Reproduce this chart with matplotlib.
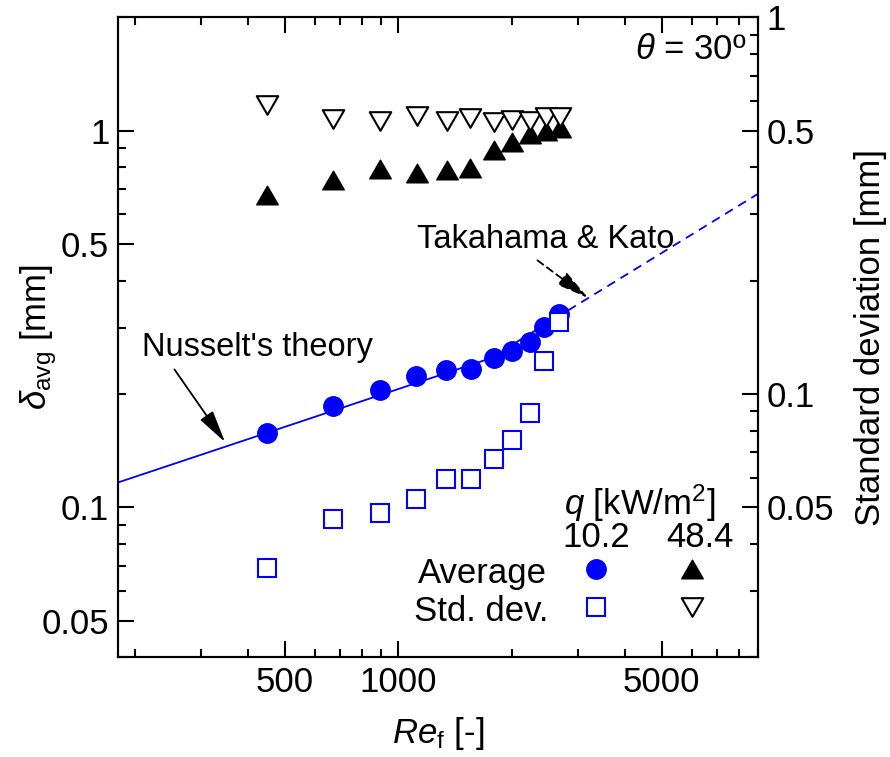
import matplotlib
matplotlib.use("Agg")
import matplotlib.pyplot as plt
from matplotlib.path import Path
from matplotlib.ticker import NullFormatter

plt.rcParams['font.family'] = ['Liberation Sans', 'DejaVu Sans']
plt.rcParams['mathtext.fontset'] = 'custom'
plt.rcParams['mathtext.rm'] = 'Liberation Sans'
plt.rcParams['mathtext.it'] = 'Liberation Sans:italic'

# Film Reynolds number of each run
re_low = [447, 670, 895, 1116, 1340, 1559, 1790, 2003, 2232, 2441, 2664]
re_high = [449, 672, 895, 1120, 1343, 1550, 1790, 2003, 2240, 2460, 2680]

# q = 10.2 kW/m2
avg_low = [0.1576, 0.1856, 0.2047, 0.2234, 0.2314, 0.2328, 0.249, 0.2594, 0.2746, 0.301, 0.3253]
std_low = [0.0346, 0.0466, 0.0483, 0.0527, 0.0594, 0.0594, 0.0672, 0.0754, 0.0888, 0.1224, 0.155]

# q = 48.4 kW/m2
avg_high = [0.675, 0.739, 0.789, 0.773, 0.786, 0.794, 0.888, 0.935, 0.98, 1.0, 1.014]
std_high = [0.585, 0.536, 0.531, 0.548, 0.531, 0.539, 0.528, 0.534, 0.531, 0.545, 0.543]

# Reference correlations (end points of straight log-log segments)
nusselt_re = [180, 1747]
nusselt_delta = [0.1164, 0.2484]
takahama_re = [1747, 9000]
takahama_delta = [0.2484, 0.68]

BLUE = '#0000ff'
FS = 25
FS_NOTE = 23.5

tri_up = Path([(0, 0.433), (-0.5, -0.433), (0.5, -0.433), (0, 0.433)],
              [Path.MOVETO, Path.LINETO, Path.LINETO, Path.CLOSEPOLY])
tri_down = Path([(0, -0.433), (-0.5, 0.433), (0.5, 0.433), (0, -0.433)],
                [Path.MOVETO, Path.LINETO, Path.LINETO, Path.CLOSEPOLY])

fig = plt.figure(figsize=(8.9, 7.57), dpi=100)
ax = fig.add_axes([0.1322, 0.1317, 0.7195, 0.8454])
ax2 = ax.twinx()

ax.set_xscale('log')
ax.set_yscale('log')
ax2.set_yscale('log')
ax.set_xlim(180, 9000)
ax.set_ylim(0.04, 2)
ax2.set_ylim(0.02, 1)

ax.plot(nusselt_re, nusselt_delta, color=BLUE, lw=1.3, zorder=2)
ax.plot(takahama_re, takahama_delta, color=BLUE, lw=1.3, ls=(0, (5, 3.5)), zorder=2)

ax.plot(re_low, avg_low, ls='none', marker='o', ms=14, mfc=BLUE, mec=BLUE, zorder=4)
ax.plot(re_high, avg_high, ls='none', marker=tri_up, ms=15.5, mfc='black', mec='black', zorder=4)
ax2.plot(re_low, std_low, ls='none', marker='s', ms=12.5, mfc='white', mec=BLUE, mew=1.5, zorder=3)
ax2.plot(re_high, std_high, ls='none', marker=tri_down, ms=15.5, mfc='white', mec='black', mew=1.5, zorder=3)

for a in (ax, ax2):
    a.tick_params(which='both', direction='in', labelsize=FS, width=1.5)
    a.tick_params(which='major', length=11.5, pad=6)
    a.tick_params(which='minor', length=6)
    for s in a.spines.values():
        s.set_linewidth(1.5)

ax.tick_params(axis='x', which='both', top=True)
ax.tick_params(axis='y', which='both', right=False)
ax2.tick_params(axis='y', which='both', left=False)

ax.set_xticks([500, 1000, 5000])
ax.set_xticklabels(['500', '1000', '5000'])
ax.set_yticks([0.05, 0.1, 0.5, 1])
ax.set_yticklabels(['0.05', '0.1', '0.5', '1'])
ax2.set_yticks([0.05, 0.1, 0.5, 1])
ax2.set_yticklabels(['0.05', '0.1', '0.5', '1'])
ax.xaxis.set_minor_formatter(NullFormatter())
ax.yaxis.set_minor_formatter(NullFormatter())
ax2.yaxis.set_minor_formatter(NullFormatter())

ax.set_xlabel(r'$\mathit{Re}_{\mathrm{f}}$ [-]', fontsize=FS, labelpad=12)
ax.set_ylabel(r'$\mathit{\delta}_{\mathrm{avg}}$ [mm]', fontsize=FS)
ax.yaxis.set_label_coords(-0.092, 0.5)
ax2.set_ylabel('Standard deviation [mm]', fontsize=FS)
ax2.yaxis.set_label_coords(1.150, 0.5)

ax.text(0.982, 0.935, r'$\mathit{\theta}$ = 30º', transform=ax.transAxes,
        ha='right', va='baseline', fontsize=FS)

ax.annotate("Nusselt's theory", xy=(347, 0.1490), xytext=(858, 0.252),
            textcoords='data', fontsize=FS_NOTE, ha='right', va='baseline',
            arrowprops=dict(arrowstyle='-|>,head_length=0.85,head_width=0.2',
                            color='black', lw=1.3, shrinkA=3, shrinkB=0,
                            relpos=(0.12, 0.0)))
ax.annotate("Takahama & Kato", xy=(3190, 0.3596), xytext=(2462, 0.488),
            textcoords='data', fontsize=FS_NOTE, ha='center', va='baseline',
            arrowprops=dict(arrowstyle='-|>,head_length=0.85,head_width=0.2',
                            color='black', lw=1.3, ls=(0, (4, 2.5)),
                            shrinkA=3, shrinkB=0, relpos=(0.44, 0.0)))

# Table-style legend
lx1, lx2 = 0.7467, 0.8974
ax.plot([lx1], [0.138], transform=ax.transAxes, marker='o', ms=14, mfc=BLUE, mec=BLUE, clip_on=False)
ax.plot([lx2], [0.138], transform=ax.transAxes, marker=tri_up, ms=15.5, mfc='black', mec='black', clip_on=False)
ax.plot([lx1], [0.0791], transform=ax.transAxes, marker='s', ms=12.5, mfc='white', mec=BLUE, mew=1.5, clip_on=False)
ax.plot([lx2], [0.0791], transform=ax.transAxes, marker=tri_down, ms=15.5, mfc='white', mec='black', mew=1.5, clip_on=False)
ax.text(0.670, 0.1156, 'Average', transform=ax.transAxes, ha='right', va='baseline', fontsize=FS)
ax.text(0.672, 0.0572, 'Std. dev.', transform=ax.transAxes, ha='right', va='baseline', fontsize=FS)
ax.text(lx1, 0.1728, '10.2', transform=ax.transAxes, ha='center', va='baseline', fontsize=FS)
ax.text(0.9096, 0.1728, '48.4', transform=ax.transAxes, ha='center', va='baseline', fontsize=FS)
ax.text(0.8157, 0.2230, r'$\mathit{q}$ [kW/m$^{2}$]', transform=ax.transAxes, ha='center', va='baseline', fontsize=FS)

fig.savefig('out.png', dpi=100)
